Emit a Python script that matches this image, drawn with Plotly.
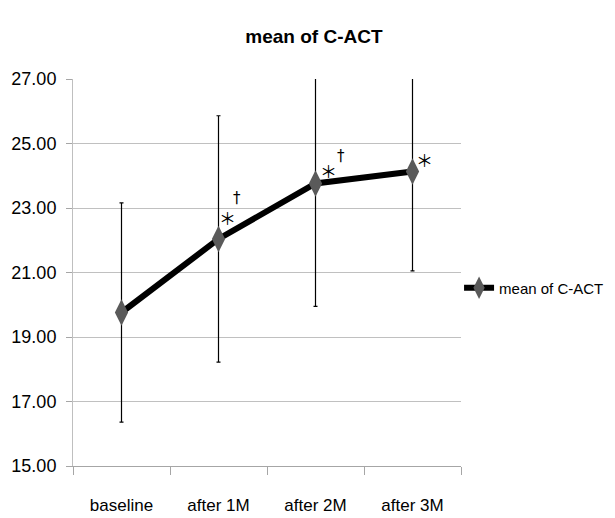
import plotly.graph_objects as go

categories = ["baseline", "after 1M", "after 2M", "after 3M"]
means = [19.76, 22.04, 23.76, 24.13]
sds = [3.40, 3.82, 3.81, 3.08]
asterisks = ["", "＊", "＊", "＊"]
daggers = ["", "†", "†", ""]
y_ticks = [15, 17, 19, 21, 23, 25, 27]
series_name = "mean of C-ACT"

# label offsets in pixels (style, not data)
ast_shift = [(0, 0), (9, 21), (13, 13), (12, 12)]
dag_shift = [(0, 0), (18, 41), (25, 27), (0, 0)]

FONT = "Liberation Sans, Arial, sans-serif"

fig = go.Figure()
fig.add_trace(go.Scatter(
    x=categories, y=means, name=series_name,
    mode="lines+markers",
    line=dict(color="black", width=6),
    marker=dict(symbol="diamond-tall", size=19, color="#5a5a5a"),
    error_y=dict(type="data", array=sds, visible=True, color="black", thickness=1.2, width=2),
    cliponaxis=True,
))

annotations = []
for i, (c, m, a, d) in enumerate(zip(categories, means, asterisks, daggers)):
    if a:
        annotations.append(dict(x=c, y=m, text=a, showarrow=False,
                                xshift=ast_shift[i][0], yshift=ast_shift[i][1],
                                font=dict(family="Noto Sans CJK JP", size=17, color="black")))
    if d:
        annotations.append(dict(x=c, y=m, text=d, showarrow=False,
                                xshift=dag_shift[i][0], yshift=dag_shift[i][1],
                                font=dict(family="DejaVu Sans", size=15, color="black")))

fig.update_layout(
    width=607, height=510,
    margin=dict(l=65, r=154, t=71, b=52, autoexpand=False),
    paper_bgcolor="white", plot_bgcolor="white",
    font=dict(family=FONT, size=17, color="black"),
    title=dict(text="<b>mean of C-ACT</b>", x=0.504, xanchor="center", y=0.945, yanchor="middle",
               font=dict(family=FONT, size=19, color="black")),
    showlegend=True,
    legend=dict(x=0.995, xanchor="left", y=0.46, yanchor="middle", font=dict(size=15),
                itemwidth=30, bgcolor="rgba(0,0,0,0)"),
    annotations=annotations,
)
fig.update_xaxes(range=[-0.5, 3.5], showline=True, linecolor="#a6a6a6", linewidth=1, ticks="outside",
                 tickson="boundaries", ticklen=8, tickcolor="#a6a6a6", showgrid=False,
                 tickfont=dict(size=17), ticklabelstandoff=24)
fig.update_yaxes(range=[15, 27], tickvals=y_ticks, tickformat=".2f", showline=True,
                 linecolor="#bfbfbf", linewidth=1, ticks="outside", ticklen=6, tickcolor="#a6a6a6",
                 showgrid=True, gridcolor="#c0c0c0", gridwidth=1, zeroline=False,
                 tickfont=dict(size=18), ticklabelstandoff=6)

fig.write_html("out.html")
